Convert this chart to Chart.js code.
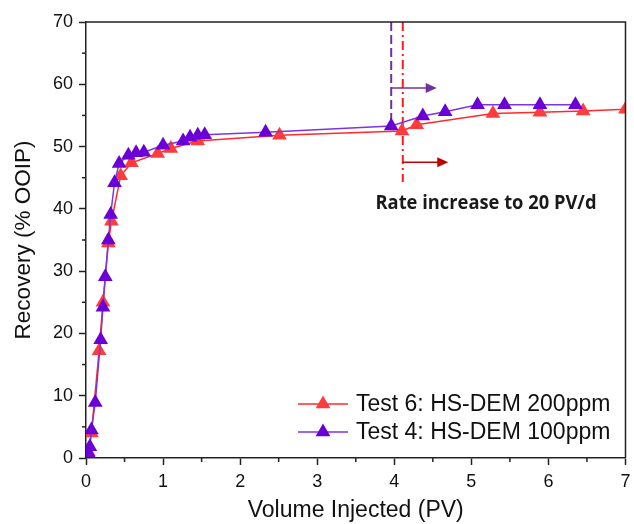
<!DOCTYPE html>
<html>
<head>
<meta charset="utf-8">
<script src="https://cdn.jsdelivr.net/npm/chart.js@4.4.1/dist/chart.umd.min.js"></script>
<style>
  html, body { margin: 0; padding: 0; background: #fff; }
  #wrap { width: 634px; height: 524px; }
</style>
</head>
<body>
<div id="wrap"><canvas id="recoveryChart" width="634" height="524"></canvas></div>
<script>
// Test 6: HS-DEM 200ppm
const test6Pv = [0.03, 0.07, 0.17, 0.22, 0.29, 0.33, 0.45, 0.59, 0.93, 1.10, 1.45, 2.51, 4.10, 4.29, 5.28, 5.89, 6.45, 7.0];
const test6Rec = [1.0, 4.0, 17.2, 25.0, 34.5, 38.0, 45.3, 47.4, 48.9, 49.7, 50.9, 51.8, 52.5, 53.5, 55.3, 55.5, 55.7, 56.0];

// Test 4: HS-DEM 100ppm
const test4Pv = [0.03, 0.05, 0.07, 0.12, 0.19, 0.22, 0.25, 0.29, 0.32, 0.37, 0.43, 0.55, 0.65, 0.75, 1.0, 1.26, 1.35, 1.45, 1.54, 2.33, 3.96, 4.37, 4.66, 5.08, 5.43, 5.89, 6.35];
const test4Rec = [0.8, 1.8, 4.5, 8.9, 19.0, 24.2, 29.1, 35.0, 39.1, 44.2, 47.3, 48.6, 49.0, 49.1, 50.2, 50.9, 51.5, 51.8, 51.9, 52.3, 53.3, 54.9, 55.6, 56.7, 56.7, 56.7, 56.7];

const seriesLabels = ['Test 6: HS-DEM 200ppm', 'Test 4: HS-DEM 100ppm'];

// rate change markers (PV) and the note
const rateChangeTest4 = 3.96;
const rateChangeTest6 = 4.11;
const rateNote = 'Rate increase to 20 PV/d';

function toPoints(xs, ys) {
    return xs.map(function (x, i) { return { x: x, y: ys[i] }; });
}

const RED = '#ff3c3c';
const PURPLE = '#6a00d6';
const AXIS_FONT = '"Liberation Sans", Arial';

const minorTicks = {
    id: 'minorTicks',
    afterDraw: function (chart) {
        const ctx = chart.ctx;
        const xs = chart.scales.x;
        const ys = chart.scales.y;
        const area = chart.chartArea;
        ctx.save();
        ctx.strokeStyle = '#222';
        ctx.lineWidth = 1.5;
        for (let v = 0.5; v < 7; v += 1) {
            const px = xs.getPixelForValue(v);
            ctx.beginPath();
            ctx.moveTo(px, area.bottom);
            ctx.lineTo(px, area.bottom + 4);
            ctx.stroke();
        }
        for (let v = 5; v < 70; v += 10) {
            const py = ys.getPixelForValue(v);
            ctx.beginPath();
            ctx.moveTo(area.left, py);
            ctx.lineTo(area.left - 4, py);
            ctx.stroke();
        }
        // frame top + right
        ctx.beginPath();
        ctx.moveTo(area.left, area.top);
        ctx.lineTo(area.right, area.top);
        ctx.lineTo(area.right, area.bottom);
        ctx.stroke();
        ctx.restore();
    }
};

function arrow(ctx, x1, y, x2, color) {
    ctx.strokeStyle = color;
    ctx.fillStyle = color;
    ctx.lineWidth = 1.5;
    ctx.setLineDash([]);
    ctx.beginPath();
    ctx.moveTo(x1, y);
    ctx.lineTo(x2 - 10, y);
    ctx.stroke();
    ctx.beginPath();
    ctx.moveTo(x2, y);
    ctx.lineTo(x2 - 11, y - 5);
    ctx.lineTo(x2 - 11, y + 5);
    ctx.closePath();
    ctx.fill();
}

const rateMarks = {
    id: 'rateMarks',
    beforeDatasetsDraw: function (chart) {
        const ctx = chart.ctx;
        const xs = chart.scales.x;
        const ys = chart.scales.y;
        const top = chart.chartArea.top;
        ctx.save();
        const p4 = xs.getPixelForValue(rateChangeTest4);
        const p6 = xs.getPixelForValue(rateChangeTest6);
        ctx.lineWidth = 2;
        ctx.strokeStyle = '#7030a0';
        ctx.setLineDash([9, 4]);
        ctx.beginPath();
        ctx.moveTo(p4, top);
        ctx.lineTo(p4, ys.getPixelForValue(53.3));
        ctx.stroke();
        ctx.strokeStyle = '#ff1a1a';
        ctx.setLineDash([9, 4, 2, 4]);
        ctx.beginPath();
        ctx.moveTo(p6, top);
        ctx.lineTo(p6, ys.getPixelForValue(44.3));
        ctx.stroke();
        arrow(ctx, p4, ys.getPixelForValue(59.4), xs.getPixelForValue(4.55), '#7030a0');
        arrow(ctx, p6, ys.getPixelForValue(47.5), xs.getPixelForValue(4.7), '#c00000');
        ctx.fillStyle = '#1a1a1a';
        ctx.font = 'bold 20px "Open Sans"';
        ctx.textAlign = 'center';
        ctx.textBaseline = 'alphabetic';
        ctx.fillText(rateNote, xs.getPixelForValue(5.19), ys.getPixelForValue(40.0), 221);
        ctx.restore();
    }
};

const insideLegend = {
    id: 'insideLegend',
    afterDraw: function (chart) {
        const ctx = chart.ctx;
        const order = [1, 0];
        ctx.save();
        ctx.font = '23px ' + AXIS_FONT;
        ctx.textBaseline = 'middle';
        ctx.textAlign = 'left';
        order.forEach(function (di, row) {
            const ds = chart.data.datasets[di];
            const y = 404 + row * 28;
            ctx.strokeStyle = ds.borderColor;
            ctx.lineWidth = 1.5;
            ctx.beginPath();
            ctx.moveTo(298, y);
            ctx.lineTo(348, y);
            ctx.stroke();
            ctx.fillStyle = ds.pointBackgroundColor;
            const r = 8.5;
            ctx.beginPath();
            ctx.moveTo(323, y - r);
            ctx.lineTo(323 + r * 0.866, y + r * 0.5);
            ctx.lineTo(323 - r * 0.866, y + r * 0.5);
            ctx.closePath();
            ctx.fill();
            ctx.fillStyle = '#111';
            ctx.fillText(ds.label, 356, y + 1);
        });
        ctx.restore();
    }
};

new Chart(document.getElementById('recoveryChart').getContext('2d'), {
    type: 'scatter',
    data: {
        datasets: [
            {
                label: seriesLabels[1],
                data: toPoints(test4Pv, test4Rec),
                showLine: true,
                borderColor: '#7b34e8',
                borderWidth: 1.5,
                pointStyle: 'triangle',
                pointRadius: 8.5,
                pointBackgroundColor: PURPLE,
                pointBorderColor: PURPLE,
                pointBorderWidth: 0,
                order: 1
            },
            {
                label: seriesLabels[0],
                data: toPoints(test6Pv, test6Rec),
                showLine: true,
                borderColor: '#ff2a2a',
                borderWidth: 1.5,
                pointStyle: 'triangle',
                pointRadius: 8.5,
                pointBackgroundColor: RED,
                pointBorderColor: RED,
                pointBorderWidth: 0,
                order: 2
            }
        ]
    },
    options: {
        responsive: false,
        animation: false,
        layout: { padding: { top: 22, right: 6, left: 0, bottom: 0 } },
        plugins: {
            legend: { display: false },
            tooltip: { enabled: false }
        },
        scales: {
            x: {
                type: 'linear',
                min: 0,
                max: 7,
                afterFit: function (scale) {
                    scale.height = 66;
                    scale.paddingRight = 0;
                },
                ticks: {
                    stepSize: 1,
                    color: '#111',
                    padding: 6,
                    maxRotation: 0,
                    font: { family: AXIS_FONT, size: 18 }
                },
                grid: { drawOnChartArea: false, tickLength: 7, tickColor: '#222', tickWidth: 1.5 },
                border: { color: '#222', width: 1.5 },
                title: {
                    display: true,
                    text: 'Volume Injected (PV)',
                    color: '#111',
                    font: { family: AXIS_FONT, size: 23 },
                    padding: { top: 0, bottom: 0 }
                }
            },
            y: {
                min: 0,
                max: 70,
                afterFit: function (scale) { scale.width = 86; },
                ticks: {
                    stepSize: 10,
                    color: '#111',
                    padding: 6,
                    font: { family: AXIS_FONT, size: 18 }
                },
                grid: { drawOnChartArea: false, tickLength: 7, tickColor: '#222', tickWidth: 1.5 },
                border: { color: '#222', width: 1.5 },
                title: {
                    display: true,
                    text: 'Recovery (% OOIP)',
                    color: '#111',
                    font: { family: AXIS_FONT, size: 22.5 },
                    padding: { top: 10, bottom: 0 }
                }
            }
        }
    },
    plugins: [rateMarks, minorTicks, insideLegend]
});
</script>
</body>
</html>
